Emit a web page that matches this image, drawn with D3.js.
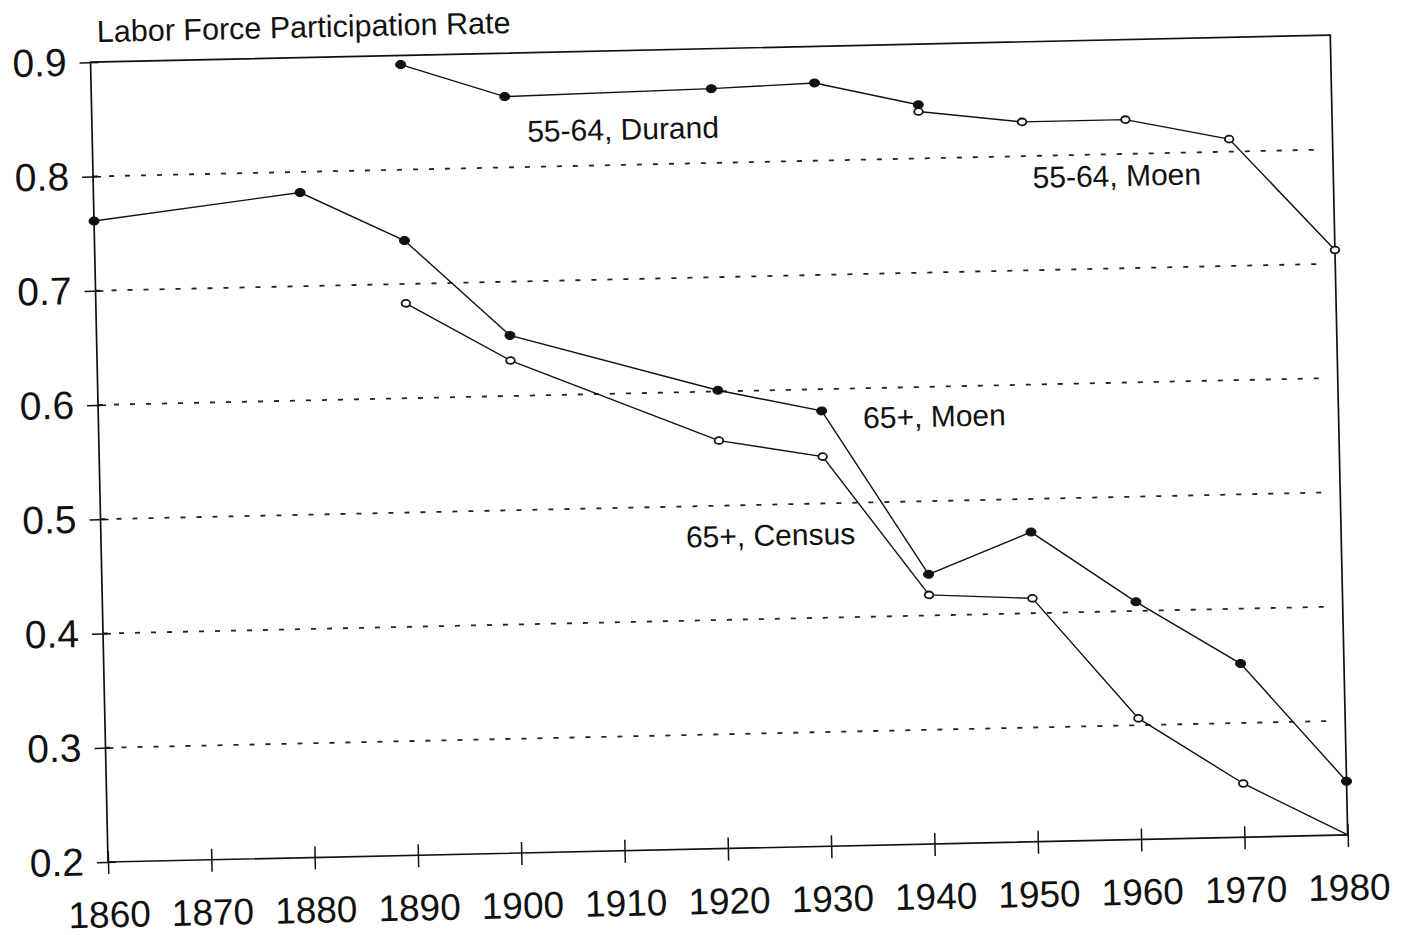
<!DOCTYPE html>
<html>
<head>
<meta charset="utf-8">
<script src="https://cdn.jsdelivr.net/npm/d3@7/dist/d3.min.js"></script>
<style>
  body { margin: 0; background: #fff; }
  text { font-family: "Liberation Sans", Arial, Helvetica, sans-serif; fill: #111; }
</style>
</head>
<body>
<div id="chart"></div>
<script>
// values
var xTicks = [1860, 1870, 1880, 1890, 1900, 1910, 1920, 1930, 1940, 1950, 1960, 1970, 1980];
var yTicks = [0.2, 0.3, 0.4, 0.5, 0.6, 0.7, 0.8, 0.9];
var gridTicks = [0.3, 0.4, 0.5, 0.6, 0.7, 0.8];

var durandYears = [1890, 1900, 1920, 1930, 1940];
var durand5564 = [0.892, 0.862, 0.865, 0.868, 0.847];

var moen5564Years = [1940, 1950, 1960, 1970, 1980];
var moen5564 = [0.841, 0.830, 0.830, 0.811, 0.712];

var moen65Years = [1860, 1880, 1890, 1900, 1920, 1930, 1940, 1950, 1960, 1970, 1980];
var moen65 = [0.761, 0.782, 0.738, 0.653, 0.601, 0.581, 0.436, 0.471, 0.408, 0.352, 0.247];

var census65Years = [1890, 1900, 1920, 1930, 1940, 1950, 1960, 1970, 1980];
var census65 = [0.683, 0.631, 0.557, 0.541, 0.418, 0.413, 0.306, 0.247, 0.2];

var labelNames = ["55-64, Durand", "55-64, Moen", "65+, Moen", "65+, Census"];
var labelYears = [1902.1, 1950.9, 1934.0, 1916.6];
var labelValues = [0.822, 0.772, 0.565, 0.464];

var svgWidth = 1402;
var svgHeight = 935;

var margin = { top: 62, right: 54, bottom: 73, left: 108 };
var width = svgWidth - margin.left - margin.right;
var height = svgHeight - margin.top - margin.bottom;

// the page was scanned a little crooked
var tilt = -1.25;

var svg = d3.select("#chart")
  .append("svg")
    .attr("width", svgWidth)
    .attr("height", svgHeight);

var chartGroup = svg.append("g")
  .attr("transform", `translate(${margin.left}, ${margin.top + height}) rotate(${tilt}) translate(0, ${-height})`);

var xScale = d3.scaleLinear().domain([1860, 1980]).range([0, width]);
var yScale = d3.scaleLinear().domain([0.2, 0.9]).range([height, 0]);

// dotted gridlines
chartGroup.selectAll(".grid")
  .data(gridTicks)
  .enter().append("line")
    .attr("x1", 0)
    .attr("x2", width - 14)
    .attr("y1", d => yScale(d))
    .attr("y2", d => yScale(d))
    .attr("stroke", "#222")
    .attr("stroke-width", 1.8)
    .attr("stroke-dasharray", "5,11");

// frame
chartGroup.append("rect")
  .attr("x", 0)
  .attr("y", 0)
  .attr("width", width)
  .attr("height", height)
  .attr("fill", "none")
  .attr("stroke", "#111")
  .attr("stroke-width", 1.7);

// y axis, cross ticks
var leftAxis = d3.axisLeft(yScale)
  .tickValues(yTicks)
  .tickFormat(d3.format(".1f"))
  .tickSizeInner(11)
  .tickSizeOuter(0)
  .tickPadding(13);

var yAxis = chartGroup.append("g").call(leftAxis);
yAxis.select(".domain").remove();
yAxis.selectAll(".tick line").attr("x2", -11).attr("x1", 8).attr("stroke", "#111").attr("stroke-width", 1.5);
yAxis.selectAll(".tick text")
  .attr("fill", "#111")
  .style("font-size", "39px")
  .style("font-family", "'Liberation Sans', Arial, sans-serif");

// x axis, cross ticks
var bottomAxis = d3.axisBottom(xScale)
  .tickValues(xTicks)
  .tickFormat(d3.format("d"))
  .tickSizeInner(12)
  .tickSizeOuter(0)
  .tickPadding(27);

var xAxis = chartGroup.append("g")
  .attr("transform", `translate(0, ${height})`)
  .call(bottomAxis);
xAxis.select(".domain").remove();
xAxis.selectAll(".tick line").attr("y1", -11).attr("y2", 12).attr("stroke", "#111").attr("stroke-width", 1.5);
xAxis.selectAll(".tick text")
  .attr("fill", "#111")
  .style("font-size", "37px")
  .style("font-family", "'Liberation Sans', Arial, sans-serif");

// title
chartGroup.append("text")
  .attr("x", 7)
  .attr("y", -20)
  .style("font-size", "30.5px")
  .text("Labor Force Participation Rate");

function drawSeries(years, values, filled) {
  var pts = years.map((y, i) => [y, values[i]]);
  var line = d3.line()
    .x(d => xScale(d[0]))
    .y(d => yScale(d[1]));

  chartGroup.append("path")
    .datum(pts)
    .attr("d", line)
    .attr("fill", "none")
    .attr("stroke", "#111")
    .attr("stroke-width", 1.4);

  chartGroup.selectAll(null)
    .data(pts.filter(d => d[1] > 0.2))
    .enter().append("ellipse")
      .attr("cx", d => xScale(d[0]))
      .attr("cy", d => yScale(d[1]))
      .attr("rx", filled ? 5 : 4.3)
      .attr("ry", filled ? 4 : 3.4)
      .attr("fill", filled ? "#111" : "#fff")
      .attr("stroke", "#111")
      .attr("stroke-width", filled ? 1 : 1.8);
}

drawSeries(durandYears, durand5564, true);
drawSeries(moen5564Years, moen5564, false);
drawSeries(moen65Years, moen65, true);
drawSeries(census65Years, census65, false);

// series labels
chartGroup.selectAll(".series-label")
  .data(labelNames)
  .enter().append("text")
    .attr("class", "series-label")
    .attr("x", (d, i) => xScale(labelYears[i]))
    .attr("y", (d, i) => yScale(labelValues[i]))
    .style("font-size", "30px")
    .text(d => d);
</script>
</body>
</html>
